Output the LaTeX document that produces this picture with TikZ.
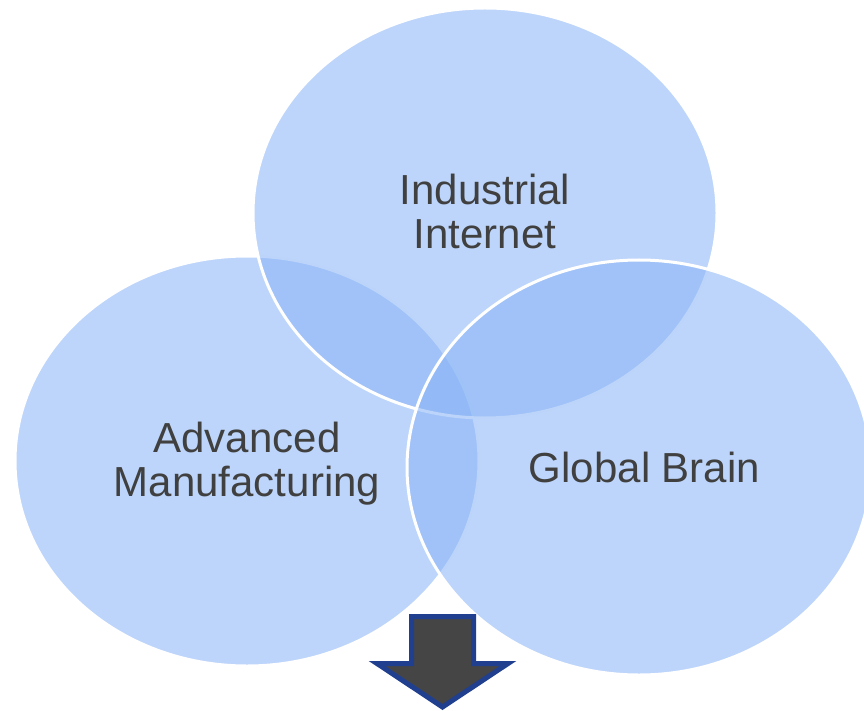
\documentclass[tikz,border=0pt]{standalone}
\usepackage{fontspec}
\setmainfont{Liberation Sans}
\definecolor{vennfill}{RGB}{137,180,246}
\definecolor{txtgray}{RGB}{64,64,64}
\definecolor{arrowfill}{RGB}{69,69,69}
\definecolor{arrowline}{RGB}{32,63,143}
\begin{document}
\begin{tikzpicture}[x=1pt,y=-1pt,
  venn/.style={fill=vennfill,fill opacity=0.56,draw=white,draw opacity=1,line width=3pt},
  lbl/.style={text=txtgray,font=\fontsize{42}{44}\selectfont,align=center,inner sep=0pt,anchor=base},
  blockarrow/.style={fill=arrowfill,draw=arrowline,line width=5pt,line join=miter}]
\useasboundingbox (0,0) rectangle (864,711);
\begin{scope}
\clip (0,0) rectangle (864,711);
\draw[venn] (247,461) ellipse [x radius=232,y radius=205];
\draw[venn] (485,213) ellipse [x radius=232,y radius=205];
\draw[venn] (639,467.5) ellipse [x radius=232,y radius=207.5];
\coordinate (a1) at (411.5,616.5);
\coordinate (a2) at (473.5,616.5);
\coordinate (a3) at (473.5,663.5);
\coordinate (a4) at (508,663.5);
\coordinate (a5) at (442.5,707);
\coordinate (a6) at (377,663.5);
\coordinate (a7) at (411.5,663.5);
\draw[blockarrow] (a1) -- (a2) -- (a3) -- (a4) -- (a5) -- (a6) -- (a7) -- cycle;
\end{scope}
\node[lbl] (ii) at (485,249) {Industrial\\Internet};
\node[lbl] (am) at (247,496) {Advanced\\Manufacturing};
\node[lbl] (gb) at (644.5,482) {Global Brain};
\end{tikzpicture}
\end{document}
